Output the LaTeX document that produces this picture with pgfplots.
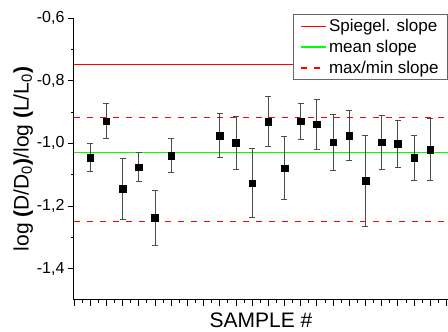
\documentclass[border=0pt]{standalone}
\usepackage{pgfplots}
\pgfplotsset{compat=1.18}
\usepackage{fontspec}
\setmainfont{Liberation Sans}
\definecolor{lgreen}{rgb}{0,1,0}
\begin{document}
\begin{tikzpicture}
\begin{axis}[name=ax, scale only axis, width=374pt, height=282pt,
  xmin=0, xmax=23.1, ymin=-1.5, ymax=-0.6,
  axis x line*=bottom, axis y line*=left,
  axis line style={line width=1pt, -},
  xtick={0,...,23}, xticklabels={}, minor x tick num=1,
  ytick={-1.4,-1.2,-1,-0.8,-0.6}, minor y tick num=1,
  tick align=outside, major tick length=6pt, minor tick length=3pt,
  tick style={black, line width=0.8pt},
  /pgf/number format/assume math mode=true,
  yticklabel style={/pgf/number format/.cd, use comma, fixed, fixed zerofill, precision=1},
  ticklabel style={font=\fontsize{16}{18}\selectfont},
  xlabel={SAMPLE \#},
  ylabel={log \textbf{(}D/D\textsubscript{0}\textbf{)}/log \textbf{(}L/L\textsubscript{0}\textbf{)}},
  label style={font=\fontsize{21}{24}\selectfont},
  ylabel style={yshift=-3pt},
  xlabel style={at={(rel axis cs:0.5,0)}, anchor=north, inner sep=0pt, yshift=-13pt},
  legend cell align=left,
  legend style={at={(rel axis cs:1,1)}, anchor=north east, yshift=4pt,
    draw=black!60, line width=0.8pt, font=\fontsize{17}{19}\selectfont,
    inner xsep=7pt, inner ysep=3pt, row sep=3pt},
]
\addlegendimage{legend image code/.code={\draw[red, line width=1.3pt] (0pt,0pt) -- (25pt,0pt);}}
\addlegendentry{Spiegel. slope}
\addlegendimage{legend image code/.code={\draw[lgreen, line width=1.3pt] (0pt,0pt) -- (25pt,0pt);}}
\addlegendentry{mean slope}
\addlegendimage{legend image code/.code={\draw[red, line width=1.3pt, dash pattern=on 6pt off 7pt] (0pt,0pt) -- (25pt,0pt);}}
\addlegendentry{max/min slope}
\addplot[red, line width=1pt, forget plot] coordinates {(0,-0.75) (23.1,-0.75)};
\addplot[lgreen, line width=1.2pt, forget plot] coordinates {(0,-1.03) (23.1,-1.03)};
\addplot[red, line width=1.3pt, dash pattern=on 6pt off 7pt, forget plot] coordinates {(0,-0.918) (23.1,-0.918)};
\addplot[red, line width=1.3pt, dash pattern=on 6pt off 7pt, forget plot] coordinates {(0,-1.249) (23.1,-1.249)};
\addplot[only marks, mark=square*, mark size=3.3pt, color=black, forget plot,
  error bars/.cd, y dir=both, y explicit,
  error bar style={black!70, line width=0.8pt},
  error mark options={rotate=90, mark size=3pt, black!70, line width=0.8pt}]
  table[x=x, y=y, y error=e] {
x y e
1 -1.046 0.045
2 -0.929 0.056
3 -1.145 0.098
4 -1.076 0.047
5 -1.238 0.087
6 -1.039 0.055
9 -0.976 0.070
10 -0.998 0.085
11 -1.127 0.111
12 -0.931 0.080
13 -1.079 0.100
14 -0.929 0.057
15 -0.939 0.080
16 -0.997 0.090
17 -0.975 0.080
18 -1.120 0.145
19 -0.997 0.085
20 -1.001 0.075
21 -1.046 0.072
22 -1.020 0.098
};
\end{axis}
\pgfresetboundingbox
\path ([shift={(-74pt,-32pt)}]ax.south west) rectangle ([shift={(0pt,18pt)}]ax.north east);
\end{tikzpicture}
\end{document}
